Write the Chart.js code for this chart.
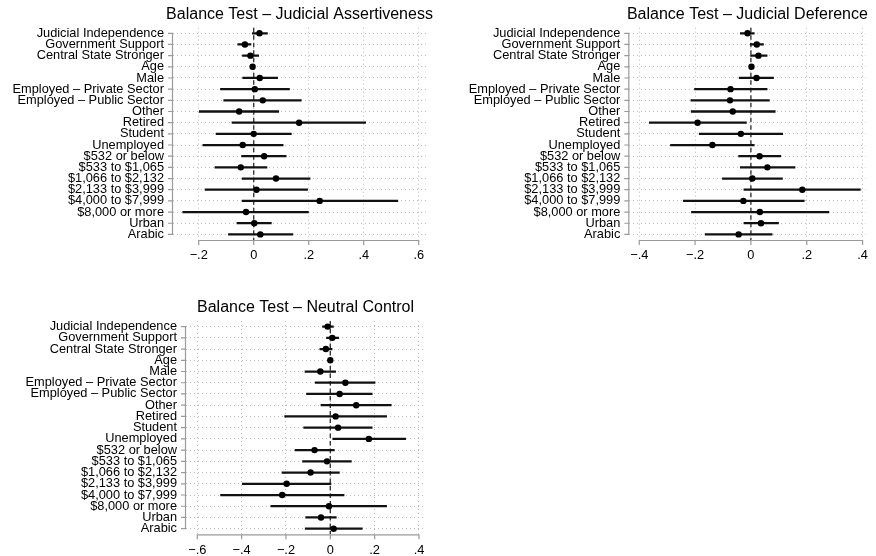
<!DOCTYPE html>
<html>
<head>
<meta charset="utf-8">
<script src="https://cdn.jsdelivr.net/npm/chart.js@4.4.1/dist/chart.umd.min.js"></script>
<style>
  html, body { margin: 0; padding: 0; background: #fff; }
  #wrap { position: relative; width: 876px; height: 556px; overflow: hidden; }
  #wrap canvas { position: absolute; left: 0; top: 0; }
</style>
</head>
<body>
<div id="wrap">
  <canvas id="c1" width="876" height="556"></canvas>
  <canvas id="c2" width="876" height="556"></canvas>
  <canvas id="c3" width="876" height="556"></canvas>
</div>
<script>
// ---------- DATA ----------
const categories = [
  'Judicial Independence', 'Government Support', 'Central State Stronger', 'Age', 'Male',
  'Employed \u2013 Private Sector', 'Employed \u2013 Public Sector', 'Other', 'Retired', 'Student',
  'Unemployed', '$532 or below', '$533 to $1,065', '$1,066 to $2,132', '$2,133 to $3,999',
  '$4,000 to $7,999', '$8,000 or more', 'Urban', 'Arabic'
];

const assertTitle = 'Balance Test \u2013 Judicial Assertiveness';
const assertEst = [0.021, -0.032, -0.012, -0.004, 0.022, 0.004, 0.033, -0.053, 0.165, 0.000,
                   -0.040, 0.038, -0.047, 0.081, 0.010, 0.240, -0.028, 0.002, 0.024];
const assertLo  = [-0.005, -0.058, -0.041, -0.008, -0.040, -0.121, -0.109, -0.198, -0.079, -0.137,
                   -0.185, -0.044, -0.141, -0.042, -0.177, -0.042, -0.258, -0.061, -0.092];
const assertHi  = [0.050, -0.010, 0.018, 0.002, 0.087, 0.130, 0.173, 0.091, 0.407, 0.137,
                   0.107, 0.118, 0.048, 0.205, 0.196, 0.524, 0.199, 0.064, 0.142];
const assertTicks = [-0.2, 0, 0.2, 0.4, 0.6];
const assertTickLabels = ['\u2212.2', '0', '.2', '.4', '.6'];

const deferTitle = 'Balance Test \u2013 Judicial Deference';
const deferEst = [-0.012, 0.021, 0.027, 0.002, 0.020, -0.073, -0.075, -0.065, -0.191, -0.036,
                  -0.138, 0.031, 0.059, 0.005, 0.184, -0.027, 0.032, 0.036, -0.044];
const deferLo  = [-0.038, -0.002, -0.001, -0.005, -0.042, -0.202, -0.215, -0.214, -0.364, -0.185,
                  -0.288, -0.044, -0.038, -0.102, -0.025, -0.242, -0.213, -0.025, -0.164];
const deferHi  = [0.012, 0.045, 0.058, 0.008, 0.081, 0.058, 0.066, 0.087, -0.016, 0.114,
                  0.012, 0.107, 0.158, 0.113, 0.392, 0.191, 0.279, 0.099, 0.076];
const deferTicks = [-0.4, -0.2, 0, 0.2, 0.4];
const deferTickLabels = ['\u2212.4', '\u2212.2', '0', '.2', '.4'];

const neutralTitle = 'Balance Test \u2013 Neutral Control';
const neutralEst = [-0.012, 0.009, -0.020, 0.000, -0.045, 0.068, 0.042, 0.117, 0.024, 0.035,
                    0.174, -0.071, -0.015, -0.089, -0.197, -0.217, -0.006, -0.042, 0.015];
const neutralLo  = [-0.035, -0.017, -0.047, -0.006, -0.114, -0.068, -0.107, -0.042, -0.206, -0.120,
                    0.011, -0.159, -0.125, -0.218, -0.397, -0.495, -0.268, -0.111, -0.113];
const neutralHi  = [0.014, 0.038, 0.008, 0.006, 0.024, 0.202, 0.189, 0.275, 0.254, 0.189,
                    0.340, 0.018, 0.095, 0.041, 0.003, 0.062, 0.254, 0.027, 0.144];
const neutralTicks = [-0.6, -0.4, -0.2, 0, 0.2, 0.4];
const neutralTickLabels = ['\u2212.6', '\u2212.4', '\u2212.2', '0', '.2', '.4'];

// ---------- LAYOUT / STYLE ----------
const FONT = "'Liberation Sans', Arial, Helvetica, sans-serif";
const W = 876, H = 556;
const AXIS_COLOR = '#9a9a9a';
const GRID_COLOR = '#bdbdbd';

const decorPlugin = {
  id: 'decor',
  beforeDatasetsDraw(chart, args, opts) {
    const ctx = chart.ctx;
    const xs = chart.scales.x, ys = chart.scales.y;
    const ca = chart.chartArea;
    ctx.save();
    // zero reference line
    const x0 = xs.getPixelForValue(0);
    ctx.strokeStyle = '#3a3a3a';
    ctx.lineWidth = 1.4;
    ctx.setLineDash([4.5, 3]);
    ctx.beginPath();
    ctx.moveTo(x0, ca.top);
    ctx.lineTo(x0, ca.bottom);
    ctx.stroke();
    ctx.setLineDash([]);
    // axis lines and ticks
    ctx.strokeStyle = AXIS_COLOR;
    ctx.lineWidth = 1.2;
    const tv = opts.ticks;
    const xa = xs.getPixelForValue(tv[0]), xb = xs.getPixelForValue(tv[tv.length - 1]);
    ctx.beginPath();
    ctx.moveTo(xa, ca.bottom + 0.5);
    ctx.lineTo(xb, ca.bottom + 0.5);
    tv.forEach(v => {
      const px = xs.getPixelForValue(v);
      ctx.moveTo(px, ca.bottom);
      ctx.lineTo(px, ca.bottom + 5);
    });
    const ya = ys.getPixelForValue(0), yb = ys.getPixelForValue(categories.length - 1);
    ctx.moveTo(ca.left - 0.5, ya);
    ctx.lineTo(ca.left - 0.5, yb);
    categories.forEach((c, i) => {
      const py = ys.getPixelForValue(i);
      ctx.moveTo(ca.left, py);
      ctx.lineTo(ca.left - 5, py);
    });
    ctx.stroke();
    // title
    ctx.fillStyle = '#000';
    ctx.font = '16px ' + FONT;
    ctx.textAlign = 'center';
    ctx.textBaseline = 'middle';
    ctx.fillText(opts.title, (ca.left + ca.right) / 2, ca.top - 13.5);
    ctx.restore();
  }
};

function makePanel(id, title, est, lo, hi, tickVals, tickLabels, geo) {
  const ci = lo.map((l, i) => [l, hi[i]]);
  const pts = est.map((v, i) => ({ x: v, y: categories[i] }));
  return new Chart(document.getElementById(id), {
    type: 'bar',
    data: {
      labels: categories,
      datasets: [
        {
          type: 'line',
          data: pts,
          showLine: false,
          pointRadius: 3.2,
          pointHoverRadius: 3.2,
          pointBackgroundColor: '#000',
          pointBorderColor: '#000',
          pointBorderWidth: 0,
          order: 0
        },
        {
          type: 'bar',
          data: ci,
          backgroundColor: '#111',
          borderWidth: 0,
          barThickness: 1.6,
          order: 1
        }
      ]
    },
    options: {
      indexAxis: 'y',
      responsive: false,
      animation: false,
      events: [],
      layout: { padding: { left: 0, top: geo.top, right: W - geo.right, bottom: 0 } },
      plugins: {
        legend: { display: false },
        tooltip: { enabled: false },
        title: { display: false },
        decor: { title: title, ticks: tickVals }
      },
      scales: {
        x: {
          type: 'linear',
          position: 'bottom',
          min: geo.min,
          max: geo.max,
          afterBuildTicks: s => { s.ticks = tickVals.map(v => ({ value: v })); },
          afterFit: s => { s.height = H - geo.bottom; },
          border: { display: false, dash: [1, 3] },
          grid: { color: GRID_COLOR, lineWidth: 1, drawTicks: false },
          ticks: {
            callback: (v, i) => tickLabels[i],
            font: { family: FONT, size: 12.8 },
            color: '#000',
            padding: 8,
            maxRotation: 0,
            autoSkip: false
          }
        },
        y: {
          type: 'category',
          labels: categories,
          offset: true,
          afterFit: s => { s.width = geo.left; },
          border: { display: false, dash: [1, 3] },
          grid: { color: GRID_COLOR, lineWidth: 1, drawTicks: false, offset: false },
          ticks: {
            font: { family: FONT, size: 12.8 },
            color: '#000',
            padding: 9,
            autoSkip: false
          }
        }
      }
    },
    plugins: [decorPlugin]
  });
}

makePanel('c1', assertTitle, assertEst, assertLo, assertHi, assertTicks, assertTickLabels,
  { left: 173, right: 426, top: 27.7, bottom: 240, min: -0.2935, max: 0.6265 });
makePanel('c2', deferTitle, deferEst, deferLo, deferHi, deferTicks, deferTickLabels,
  { left: 629.3, right: 869, top: 27.7, bottom: 240, min: -0.4356, max: 0.4105 });
makePanel('c3', neutralTitle, neutralEst, neutralLo, neutralHi, neutralTicks, neutralTickLabels,
  { left: 186, right: 425, top: 321, bottom: 534.3, min: -0.6509, max: 0.4272 });
</script>
</body>
</html>
